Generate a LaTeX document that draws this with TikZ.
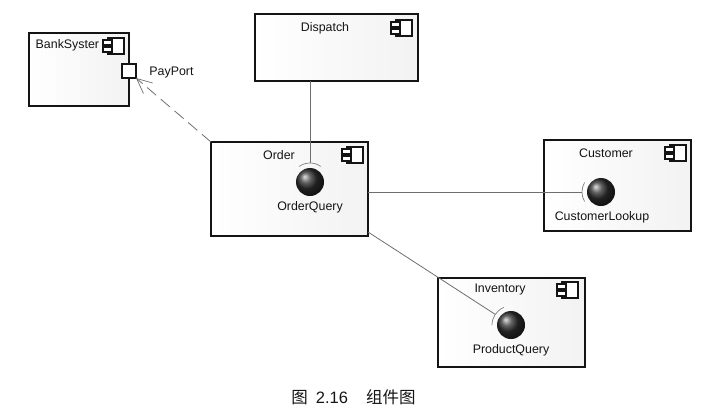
\documentclass[tikz,border=0pt]{standalone}
\usepackage{fontspec}
\setmainfont{Liberation Sans}
\newfontfamily\cjkfont{Noto Sans CJK SC}
\usetikzlibrary{arrows.meta}
\definecolor{inkc}{HTML}{141414}
\definecolor{linec}{HTML}{6E6E6E}
\tikzset{
  compbox/.style={draw=inkc,line width=1.8pt,anchor=north west,inner sep=0pt,outer sep=0pt,
    left color=white,right color=black!5},
  lbl/.style={text=inkc,font=\fontsize{12.4}{15}\selectfont,inner sep=0pt},
  ballnode/.style={circle,minimum size=28pt,inner sep=0pt,shading=ball,ball color=black!82},
  link/.style={draw=linec,line width=0.8pt},
  socket/.style={draw=black!50,line width=0.7pt},
  portbox/.style={draw=inkc,fill=white,line width=1.7pt,minimum width=14pt,minimum height=14pt,inner sep=0pt,outer sep=0pt},
  pics/compicon/.style={code={
    \draw[draw=inkc,fill=white,line width=1.4pt] (5,0) rectangle (21,16);
    \draw[draw=inkc,fill=white,line width=1.4pt] (0,2) rectangle (9,7);
    \draw[draw=inkc,fill=white,line width=1.4pt] (0,9) rectangle (9,14);
  }}
}
\begin{document}
\begin{tikzpicture}[x=1pt,y=-1pt]
\useasboundingbox (0,0) rectangle (710,413);
% component boxes
\node[compbox,minimum width=100pt,minimum height=73pt] (bank) at (29,33) {};
\node[compbox,minimum width=163pt,minimum height=67pt] (dispatch) at (255,14) {};
\node[compbox,minimum width=157pt,minimum height=94pt] (order) at (211,142) {};
\node[compbox,minimum width=147pt,minimum height=91pt] (customer) at (544,140) {};
\node[compbox,minimum width=147pt,minimum height=89pt] (inventory) at (438,278) {};
% labels
\node[lbl,anchor=west] (banklbl) at (35.5,45.5) {BankSyster};
\node[lbl] (portlbl) at (171.5,72.5) {PayPort};
\node[lbl] (dispatchlbl) at (325,28) {Dispatch};
\node[lbl] (orderlbl) at (279,155) {Order};
\node[lbl] (customerlbl) at (606,153.5) {Customer};
\node[lbl] (inventorylbl) at (500,290) {Inventory};
\node[lbl] (orderq) at (310,207.5) {OrderQuery};
\node[lbl] (customerq) at (602,217.5) {CustomerLookup};
\node[lbl] (productq) at (511,350.5) {ProductQuery};
% icons
\pic at (103,38) {compicon};
\pic at (391,20) {compicon};
\pic at (342,147) {compicon};
\pic at (665,145) {compicon};
\pic at (557,282) {compicon};
% balls
\node[ballnode] (ballA) at (310,182) {};
\node[ballnode] (ballB) at (601,192) {};
\node[ballnode] (ballC) at (511,325) {};
% sockets
\draw[socket] ([shift={(55:19pt)}]ballA.center) arc[start angle=55,end angle=125,radius=19pt];
\draw[socket] ([shift={(150:19pt)}]ballB.center) arc[start angle=150,end angle=210,radius=19pt];
\draw[socket] ([shift={(112:19pt)}]ballC.center) arc[start angle=112,end angle=180,radius=19pt];
\coordinate (arcA) at ([shift={(90:19pt)}]ballA.center);
\coordinate (arcB) at ([shift={(180:19pt)}]ballB.center);
\coordinate (arcC) at ([shift={(146:19pt)}]ballC.center);
\coordinate (orderC) at ([yshift=4pt]order.south east);
% port
\node[portbox] (port) at (129,71) {};
% connectors
\draw[link] (dispatch.south -| arcA) -- (arcA);
\draw[link] (order.east |- arcB) -- (arcB);
\draw[link] (orderC) -- (arcC);
\draw[link,dash pattern=on 12pt off 6pt,-{Straight Barb[length=15pt,width=14pt,line width=0.7pt]}] (order.north west) -- (port.south east);
% caption
\node[text=inkc,font=\fontsize{16.5}{20}\selectfont,inner sep=0pt] (caption) at (353.5,397) {{\cjkfont 图}\hspace{8pt}2.16\hspace{18pt}{\cjkfont 组件图}};
\end{tikzpicture}
\end{document}
